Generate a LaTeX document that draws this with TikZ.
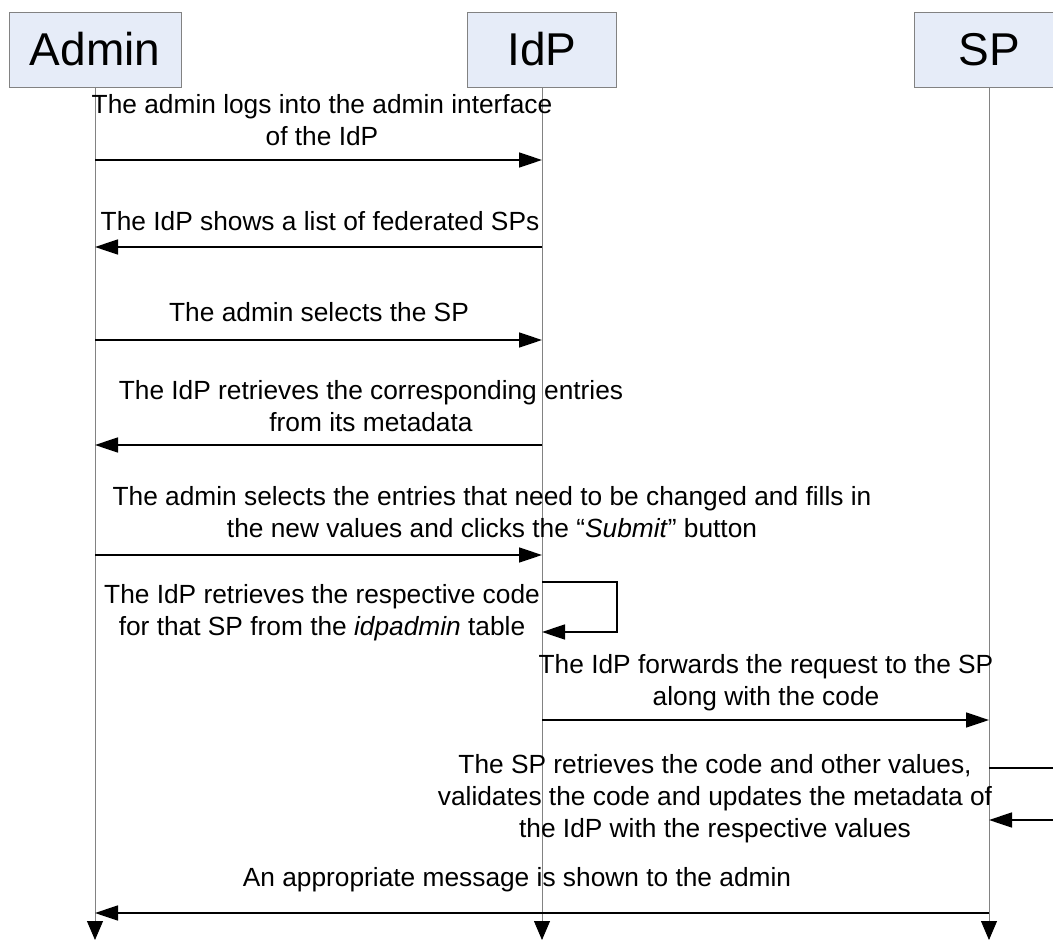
\documentclass[tikz,border=0pt]{standalone}
\usepackage{fontspec}
\setmainfont{Liberation Sans}
\usetikzlibrary{arrows.meta,positioning}
\definecolor{headfill}{RGB}{230,236,248}
\definecolor{lifegray}{RGB}{130,130,130}

\begin{document}
\begin{tikzpicture}[x=1pt, y=-1pt,
  every node/.style={font=\fontsize{26.3}{32}\selectfont, align=center, inner sep=0pt},
  actor/.style={draw=lifegray, fill=headfill, minimum height=75pt, font=\fontsize{46}{50}\selectfont},
  life/.style={draw=lifegray, line width=0.8pt, -{Triangle[length=19pt,width=16pt,color=black]}},
  msg/.style={draw=black, line width=1.6pt, -{Triangle[length=23pt,width=15pt]}},
  plain/.style={draw=black, line width=1.6pt}]
  \clip (0,0) rectangle (1053,940);
  \coordinate (bottom) at (0,940);

  \node[actor, minimum width=172pt] (admin) at (95,49.5) {Admin};
  \node[actor, minimum width=149pt] (idp) at (542,49.5) {IdP};
  \node[actor, minimum width=150pt] (sp) at (989,49.5) {SP};

  \draw[life] (admin.south) -- (admin.south |- bottom);
  \draw[life] (idp.south) -- (idp.south |- bottom);
  \draw[life] (sp.south) -- (sp.south |- bottom);

  \coordinate (a1) at (95,160);  \coordinate (i1) at (542,160);
  \coordinate (a2) at (95,247);  \coordinate (i2) at (542,247);
  \coordinate (a3) at (95,340);  \coordinate (i3) at (542,340);
  \coordinate (a4) at (95,445);  \coordinate (i4) at (542,445);
  \coordinate (a5) at (95,555);  \coordinate (i5) at (542,555);
  \coordinate (i6a) at (542,582); \coordinate (i6b) at (542,632);
  \coordinate (i7) at (542,720); \coordinate (s7) at (989,720);
  \coordinate (s8a) at (989,768); \coordinate (s8b) at (989,820);
  \coordinate (out8a) at (1060,768); \coordinate (out8b) at (1060,820);
  \coordinate (s9) at (989,913); \coordinate (a9) at (95,913);

  \node (t1) at (322,120) {The admin logs into the admin interface\\of the IdP};
  \draw[msg] (a1) -- (i1);
  \node (t2) at (320,221) {The IdP shows a list of federated SPs};
  \draw[msg] (i2) -- (a2);
  \node (t3) at (319,312) {The admin selects the SP};
  \draw[msg] (a3) -- (i3);
  \node (t4) at (371,406) {The IdP retrieves the corresponding entries\\from its metadata};
  \draw[msg] (i4) -- (a4);
  \node (t5) at (492,512.5) {The admin selects the entries that need to be changed and fills in\\the new values and clicks the “\textit{Submit}” button};
  \draw[msg] (a5) -- (i5);
  \node (t6) at (322,612.5) {The IdP retrieves the respective code\\for that SP from the \textit{idpadmin} table};
  \draw[msg] (i6a) -- ++(75,0) |- (i6b);
  \node (t7) at (766,683) {The IdP forwards the request to the SP\\along with the code};
  \draw[msg] (i7) -- (s7);
  \node (t8) at (715,799) {The SP retrieves the code and other values,\\validates the code and updates the metadata of\\the IdP with the respective values};
  \draw[plain] (s8a) -- (out8a);
  \draw[msg] (out8b) -- (s8b);
  \node (t9) at (517,880) {An appropriate message is shown to the admin};
  \draw[msg] (s9) -- (a9);
\end{tikzpicture}
\end{document}
